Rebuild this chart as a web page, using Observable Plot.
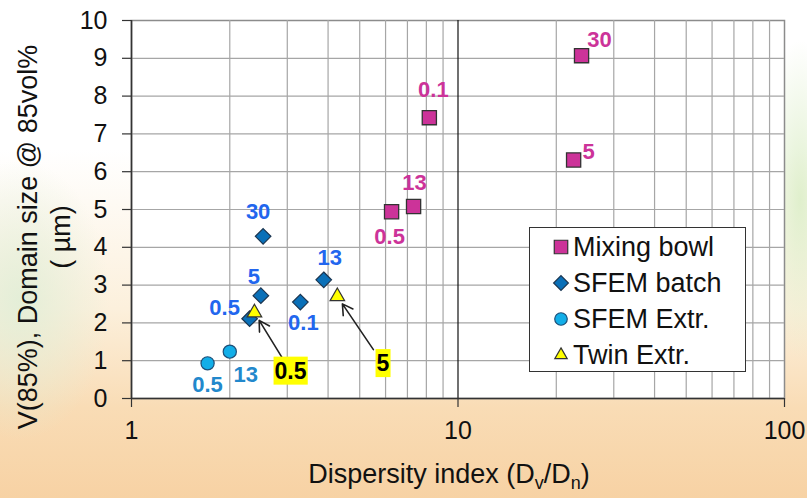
<!DOCTYPE html>
<html>
<head>
<meta charset="utf-8">
<script src="https://cdn.jsdelivr.net/npm/d3@7"></script>
<script src="https://cdn.jsdelivr.net/npm/@observablehq/plot@0.6"></script>
<style>
  html, body { margin: 0; padding: 0; }
  #wrap {
    position: relative; width: 807px; height: 498px; overflow: hidden;
    font-family: "Liberation Sans", Arial, sans-serif;
    background:
      radial-gradient(ellipse 90px 140px at 20px 300px, rgba(225,238,215,0.9), rgba(225,238,215,0) 100%),
      radial-gradient(ellipse 40px 160px at 800px 200px, rgba(220,238,200,0.9), rgba(220,238,200,0) 100%),
      linear-gradient(to bottom, #ffffff 0%, #ffffff 30%, #fcf0dc 62%, #f9dcb5 82%, #f7d2a4 100%);
  }
  #legend {
    position: absolute; left: 529px; top: 227px; width: 217px; height: 145px;
    background: #fff; border: 1.5px solid #333; box-sizing: border-box;
    font-family: "Liberation Sans", Arial, sans-serif; font-size: 27px; color: #111;
  }
  .lrow { position: absolute; left: 0; height: 36px; display: flex; align-items: center; }
  .lrow svg { margin-left: 22px; margin-right: 3px; }
</style>
</head>
<body>
<div id="wrap"></div>
<script>
// ---- data ----
const xTicks = [1, 10, 100];
const xMinorGrid = [2, 3, 4, 5, 6, 7, 8, 9, 20, 30, 40, 50, 60, 70, 80, 90];
const yTicks = [0, 1, 2, 3, 4, 5, 6, 7, 8, 9, 10];

const seriesNames = ["Mixing bowl", "SFEM batch", "SFEM Extr.", "Twin Extr."];

const mixingX = [6.26, 7.31, 8.17, 23.9, 22.6];
const mixingY = [4.94, 5.08, 7.43, 9.07, 6.31];
const mixingLabels = ["0.5", "13", "0.1", "30", "5"];

const batchX = [2.53, 2.49, 2.30, 3.29, 3.88];
const batchY = [4.29, 2.72, 2.11, 2.55, 3.14];
const batchLabels = ["30", "5", "0.5", "0.1", "13"];

const extrX = [1.71, 2.00];
const extrY = [0.93, 1.24];
const extrLabels = ["0.5", "13"];

const twinX = [2.38, 4.27];
const twinY = [2.27, 2.70];
const twinLabels = ["0.5", "5"];
// callout anchor positions (data space) for the twin-extruder labels
const twinCalloutX = [3.07, 5.89];
const twinCalloutY = [0.72, 0.92];

// ---- layout / style (kept separate from data) ----
const mixingLabelOffsets = [[-2, 25], [1, -24], [4, -28], [18, -16], [15, -8]];
const batchLabelOffsets = [[-5, -24], [-7, -19], [-25, -11], [3, 21], [6, -22]];
const extrLabelOffsets = [[0, 22], [16, 23]];

const styles = {
  mixing: {symbol: "square", r: 8, fill: "#cc3399", stroke: "#333", label: "#cc3399"},
  batch:  {symbol: "diamond2", r: 7, fill: "#0a70b8", stroke: "#1b3550", label: "#2266ee"},
  extr:   {symbol: "circle", r: 6.6, fill: "#12aee8", stroke: "#1d4f78", label: "#2288cc"},
  twin:   {symbol: "triangle", r: 5.4, fill: "#ffff00", stroke: "#333", label: "#000"}
};

const FONT = '"Liberation Sans", Arial, sans-serif';

function series(xs, ys, labels) {
  return xs.map((x, i) => ({x, y: ys[i], label: labels[i]}));
}
const mixing = series(mixingX, mixingY, mixingLabels);
const batch = series(batchX, batchY, batchLabels);
const extr = series(extrX, extrY, extrLabels);
const twin = twinX.map((x, i) => ({x, y: twinY[i], label: twinLabels[i], cx: twinCalloutX[i], cy: twinCalloutY[i]}));

function labelMarks(data, offsets, color) {
  return data.map((d, i) => Plot.text([d], {
    x: "x", y: "y", text: "label",
    dx: offsets[i][0], dy: offsets[i][1],
    fill: color, fontSize: 22, fontWeight: "bold", fontFamily: FONT,
    textAnchor: "middle", lineAnchor: "middle"
  }));
}

const chart = Plot.plot({
  width: 807,
  height: 498,
  marginLeft: 131,
  marginRight: 23,
  marginTop: 20,
  marginBottom: 100,
  style: {background: "transparent", fontFamily: FONT, overflow: "visible"},
  x: {type: "log", domain: [1, 100]},
  y: {domain: [0, 10]},
  marks: [
    Plot.frame({fill: "white", stroke: "#8c8c8c", strokeWidth: 1.5}),
    Plot.ruleX(xMinorGrid, {stroke: "#a6a6a6", strokeWidth: 1.2}),
    Plot.ruleY(yTicks.slice(1, -1), {stroke: "#a6a6a6", strokeWidth: 1.2}),
    Plot.ruleX([10], {stroke: "#111", strokeWidth: 1.2}),
    Plot.ruleX([1], {stroke: "#333", strokeWidth: 1.6}),
    Plot.ruleY([0], {stroke: "#333", strokeWidth: 1.6}),
    Plot.axisY({ticks: yTicks, tickSize: 9, tickPadding: 15, fontSize: 25, label: null, stroke: "#333", fill: "#111", strokeWidth: 1.2}),
    Plot.axisX({ticks: xTicks, tickSize: 9, tickPadding: 14, fontSize: 25, label: null, tickFormat: d => String(d), stroke: "#333", fill: "#111", strokeWidth: 1.2}),
    Plot.arrow(twin, {x1: "cx", y1: "cy", x2: "x", y2: "y", stroke: "#222", strokeWidth: 1.6, headLength: 11, insetStart: 17, insetEnd: 9}),
    Plot.dot(mixing, {x: "x", y: "y", symbol: styles.mixing.symbol, r: styles.mixing.r, fill: styles.mixing.fill, stroke: styles.mixing.stroke, strokeWidth: 1.3}),
    Plot.dot(batch, {x: "x", y: "y", symbol: styles.batch.symbol, r: styles.batch.r, fill: styles.batch.fill, stroke: styles.batch.stroke, strokeWidth: 1.2}),
    Plot.dot(extr, {x: "x", y: "y", symbol: styles.extr.symbol, r: styles.extr.r, fill: styles.extr.fill, stroke: styles.extr.stroke, strokeWidth: 1.2}),
    Plot.dot(twin, {x: "x", y: "y", symbol: styles.twin.symbol, r: styles.twin.r, fill: styles.twin.fill, stroke: styles.twin.stroke, strokeWidth: 1.2}),
    ...labelMarks(mixing, mixingLabelOffsets, styles.mixing.label),
    ...labelMarks(batch, batchLabelOffsets, styles.batch.label),
    ...labelMarks(extr, extrLabelOffsets, styles.extr.label),
    Plot.text(twin, {x: "cx", y: "cy", text: "label", fill: "#000", fontSize: 23, fontWeight: "bold", fontFamily: FONT,
      textAnchor: "middle", lineAnchor: "middle", ariaDescription: "twin-callout"})
  ]
});

const wrap = document.getElementById("wrap");
wrap.appendChild(chart);

// yellow boxes behind the twin callout labels
const svg = d3.select(chart);
svg.selectAll('g[aria-description="twin-callout"] text').each(function() {
  const bb = this.getBBox();
  const padX = 1, padY = 1;
  const r = d3.select(this.parentNode).insert("rect", () => this)
    .attr("x", bb.x - padX).attr("y", bb.y - padY)
    .attr("width", bb.width + 2 * padX).attr("height", bb.height + 2 * padY)
    .attr("fill", "#ffff00").attr("stroke", "none");
  const t = this.getAttribute("transform");
  if (t) r.attr("transform", t);
});

// axis titles
const ytitle = svg.append("g").attr("font-family", FONT).attr("fill", "#111").attr("font-size", 27).attr("text-anchor", "middle");
ytitle.append("text").attr("transform", "translate(28,237) rotate(-90)").attr("dy", "0.35em").text("V(85%), Domain size @ 85vol%");
ytitle.append("text").attr("transform", "translate(61,237) rotate(-90)").attr("dy", "0.35em").text("( \u00b5m)");

const xt = svg.append("text").attr("font-family", FONT).attr("fill", "#111").attr("font-size", 27)
  .attr("text-anchor", "middle").attr("x", 449).attr("y", 483);
xt.append("tspan").text("Dispersity index (D");
xt.append("tspan").attr("font-size", 18).attr("dy", 6).text("v");
xt.append("tspan").attr("dy", -6).text("/D");
xt.append("tspan").attr("font-size", 18).attr("dy", 6).text("n");
xt.append("tspan").attr("dy", -6).text(")");

// legend
const legend = d3.select(wrap).append("div").attr("id", "legend");
const legendKeys = ["mixing", "batch", "extr", "twin"];
legendKeys.forEach((k, i) => {
  const s = styles[k];
  const row = legend.append("div").attr("class", "lrow").style("top", (1 + i * 36) + "px");
  const sv = row.append("svg").attr("width", 18).attr("height", 18);
  const symMap = {square: d3.symbolSquare, diamond2: d3.symbolDiamond2, circle: d3.symbolCircle, triangle: d3.symbolTriangle};
  const rr = k === "twin" ? 4.6 : s.r * 0.95;
  sv.append("path")
    .attr("transform", "translate(9,9)")
    .attr("d", d3.symbol(symMap[s.symbol], Math.PI * rr * rr)())
    .attr("fill", s.fill).attr("stroke", s.stroke).attr("stroke-width", 1.2);
  row.append("span").text(seriesNames[i]);
});
</script>
</body>
</html>
